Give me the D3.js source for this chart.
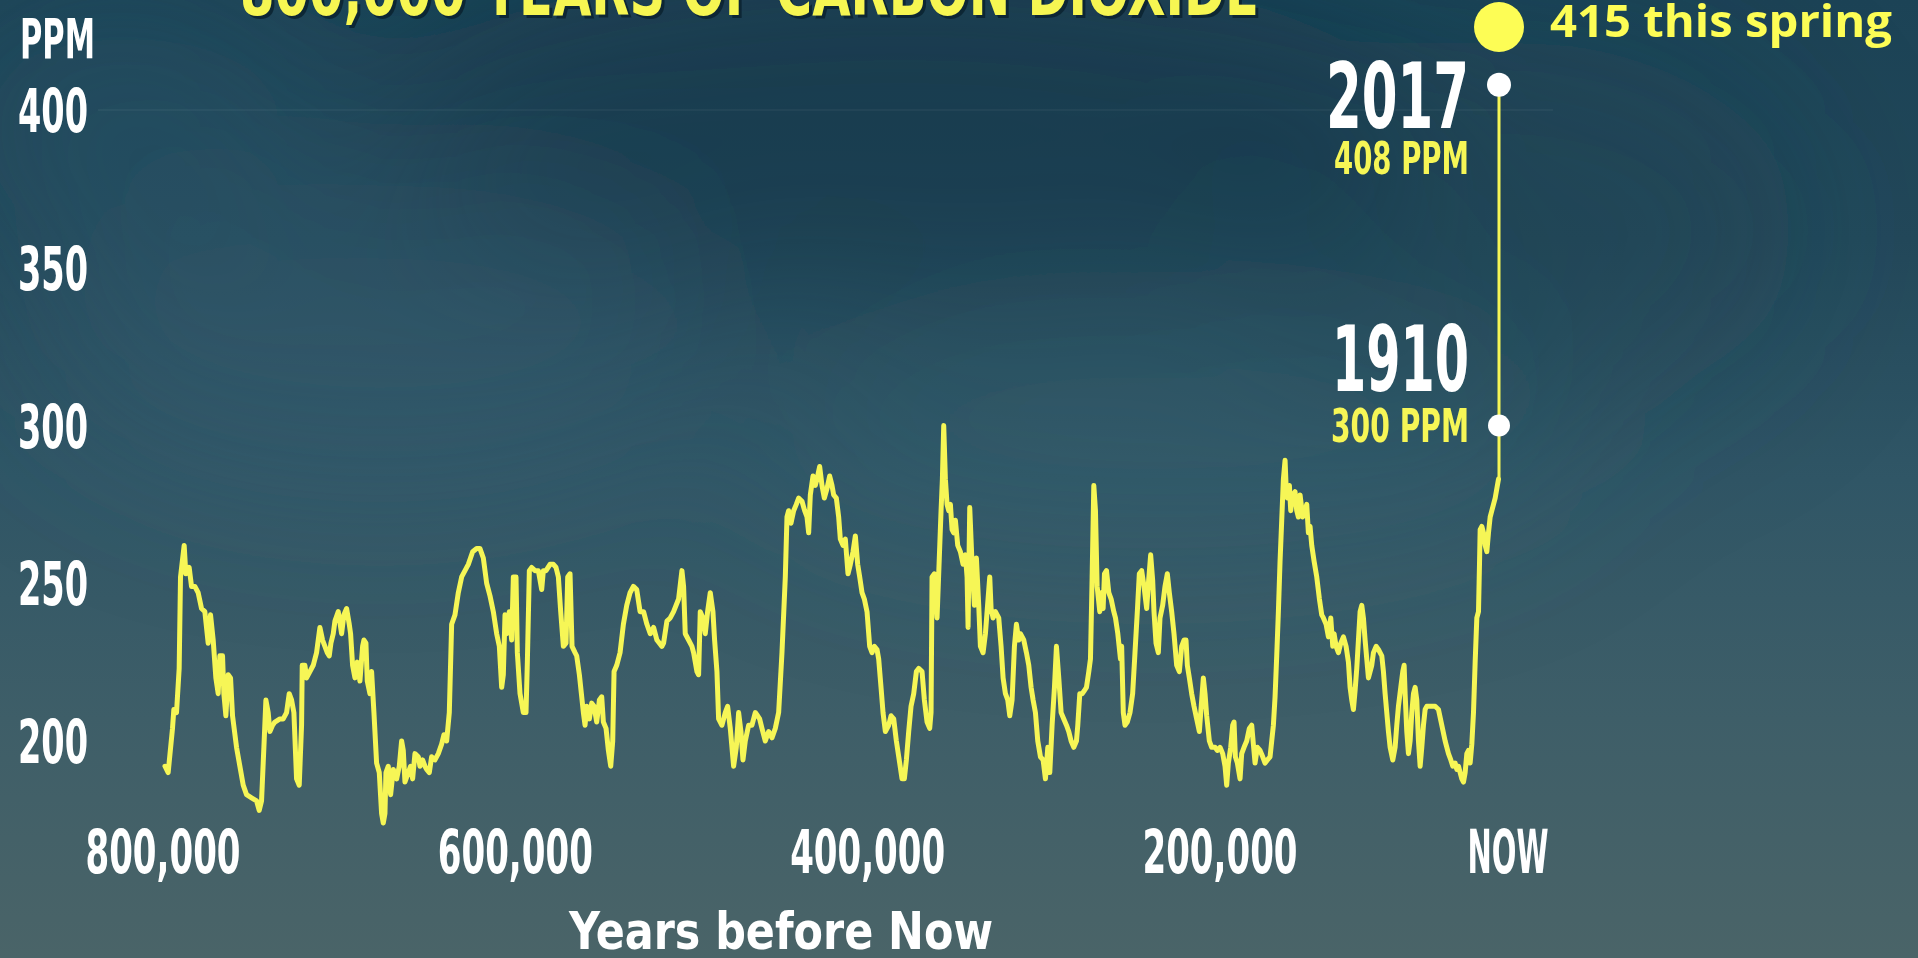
<!DOCTYPE html>
<html><head><meta charset="utf-8">
<script src="https://cdn.jsdelivr.net/npm/d3@7"></script>
<style>html,body{margin:0;padding:0;background:#2a4f5f;overflow:hidden}svg{display:block}</style>
</head><body>
<svg id="chart" width="1918" height="958"></svg>
<script>
// ---- data (thousand years before present, ppm) ----
const years = [800,798.1,795.5,794.7,793.1,791.5,790.7,788.5,787.5,785.5,784.1,782.1,780.1,778.1,776.1,774.1,772.7,771.1,769.5,768.1,767.1,765.5,764.7,763.5,762.1,760.7,759.5,757.1,755.1,753.1,751.1,748.1,745.1,743.5,742.1,740.7,739.5,738.1,737.1,735.5,734.1,731.1,729.1,727.1,725.5,724.1,722.7,721.1,719.5,718.1,717.7,716.1,715.1,713.1,711.1,709.1,707.1,705.5,704.1,702.7,701.5,700.5,699.1,698.1,696.1,694.1,692.7,691.1,689.5,688.7,687.5,686.1,684.7,683.1,681.5,680.7,679.5,678.7,677.1,676.1,674.7,673.1,671.5,670.1,669.1,668.1,667.5,666.1,664.7,663.1,661.1,659.5,658.1,657.1,656.1,654.1,652.7,651.5,650.1,648.1,647.1,645.5,644.1,643.1,641.5,640.1,638.1,636.1,634.1,632.7,631.1,629.5,628.1,626.1,624.1,622.1,620.1,618.1,615.5,613.1,611.1,609.1,607.1,605.1,603.1,601.1,599.5,598.1,597.1,596.1,595.1,593.5,592.1,591.1,589.5,588.7,587.1,585.1,583.5,582.7,581.5,580.1,578.1,576.1,574.1,573.1,571.5,569.1,567.1,565.5,564.1,562.7,561.1,559.5,558.5,557.1,555.9,554.1,553.1,551.5,550.1,549.1,548.1,547.1,545.5,544.1,542.7,541.1,539.5,538.1,537.1,535.5,534.1,532.7,531.5,530.7,529.1,527.1,525.1,523.1,521.1,519.1,517.1,515.1,
513,511,509,507,505,502,501,499,497,495,492,490,489,488,486,484,483,481,480,479,477.4,476,474.6,473,471.4,470.4,469,468,466,464,462.6,461,459,457.4,456,454.6,453.4,452,450,448,446,444.6,443.4,442,440,438,436,434,432,430,428,427,426,424.6,423,421.4,420,418,416.4,415,414,413,411.4,410,409,407.4,406,404.6,403,401.4,400,399,397.4,396,395,393.4,392,390.4,389,387.4,386,384.6,383.4,382,380.6,379,377.4,376,374.6,373,372,370.6,369.4,368,366,364.6,363,361.4,359.4,358,356.6,355.4,354,352.6,351,349.4,348,346,344.6,343,341.4,340.6,340,338.6,337,335.8,334.6,333.8,333,332,331,330,329,328,327,326,324.6,323,321.4,320,319,318.4,317.4,316,314.6,313.4,312,311,309.4,308,307,305.4,304.6,303.4,302,300,298.6,297.4,296,294.6,293.4,292,290.6,289.4,288,287,285,283.4,282,280.6,279.4,278,276.6,275,273.4,272,270.6,269.4,268,266.6,265.4,264,262.6,261,259.4,258,256.6,255,253.4,252.6,251.4,250,248.6,247.4,246,245,244,243,242,241,239.4,238.6,237.4,236.6,235.4,234,232.6,231,230,228.6,227,
226.3,225.3,224.3,222.9,221.3,219.7,218.3,216.9,215.7,214.3,212.9,211.3,210.1,208.9,207.7,206.9,205.7,204.3,203.3,201.7,200.3,198.9,197.7,196.3,194.9,193.3,191.7,190.3,188.9,187.7,186.9,185.7,184.3,182.9,181.3,179.7,178.3,177.3,176.3,175.3,173.7,172.3,170.3,168.9,167.3,165.7,164.3,163.3,162.3,160.9,159.7,158.9,158.1,156.9,155.3,154.3,152.9,151.3,149.7,148.3,147.3,146.3,144.9,143.3,141.7,140.3,138.9,137.3,136.3,135.3,134.3,133.3,132.3,131.3,130.3,129.3,128.3,127.7,126.9,125.7,124.9,123.7,122.3,121.3,120.3,119.3,117.7,116.3,115.3,114.3,113.3,112.3,110.9,109.3,107.7,106.3,105.3,103.7,102.3,100.9,99.7,98.9,97.7,96.3,94.9,93.3,91.7,90.3,89.3,88.3,87.3,86.3,85.3,84.3,83.3,82.3,81.3,80.3,79.3,78.3,77.3,76.3,75.3,73.7,72.3,70.3,69.3,68.3,67.3,66.3,65.3,63.7,62.3,61.3,60.3,58.9,57.7,56.9,56.3,55.3,54.3,53.3,52.3,51.3,50.3,49.3,48.3,47.3,46.3,45.3,44.3,43.3,41.3,38.3,36.3,34.3,32.3,30.3,28.9,27.7,26.3,25.3,24.3,23.3,22.3,21.3,20.3,19.3,18.3,17.3,16.3,15.3,14.3,13.3,12.3,11.7,11.3,10.3,9.3,8.3,7.3,6.3,5.3,4.3,3.3,2.3,1.3,0.3];
const co2 = [192,190,204,210,209,223,252,262,253,255,249,249,247,242,241,231,240,232,220,215,227,227,215,208,221,220,208,198,192,186,183,182,181,178,181,198,213,209,203,205,206,207,207,209,215,213,209,188,186,205,224,224,220,222,224,228,236,232,230,228,227,231,234,238,241,234,240,242,237,234,224,220,225,219,230,232,231,219,215,222,209,193,190,177,174,177,190,192,183,191,188,192,200,197,187,190,192,188,196,195,192,194,192,191,190,195,194,196,199,202,200,209,237,240,247,252,254,256,260,261,261,258,250,246,241,234,230,217,221,240,234,241,232,252,252,228,215,209,209,225,254,255,254,254,248,254,254,256,256,255,252,241,230,231,252,253,230,228,227,221,214,209,205,211,207,212,211,206,213,214,206,204,197,192,200,222,224,228,237,243,247,249,248,241,
241,237,234,236,232,230,231,238,239,241,245,254,249,234,232,230,228,222,221,241,239,234,241,247,241,232,222,207,205,209,211,204,192,198,209,203,194,200,205,205,209,208,207,204,200,203,201,204,209,228,252,271,273,269,273,275,277,276,273,271,266,278,284,281,283,287,281,277,280,284,281,278,277,271,264,262,264,253,256,260,265,256,252,247,245,241,230,228,230,229,226,217,209,203,205,208,207,200,193,188,188,194,203,211,215,222,223,222,213,206,204,209,252,253,239,256,273,283,300,283,275,273,275,267,266,270,262,260,256,259,252,236,274,256,243,258,243,230,228,234,241,252,242,239,241,239,230,220,215,213,208,213,230,237,232,234,232,228,224,217,213,209,200,195,194,188,198,190,205,217,230,220,209,207,205,203,200,198,200,205,215,215,216,217,222,226,252,281,273,249,241,247,242,253,254,247,245,241,239,234,226,
230,209,205,206,209,215,228,241,253,254,249,242,251,259,251,241,231,228,239,243,249,253,247,241,234,224,222,230,232,232,224,220,215,211,207,203,213,220,215,208,200,198,198,197,198,196,192,186,193,198,205,206,195,193,188,196,198,200,204,205,199,193,198,197,195,193,194,195,200,205,214,227,241,257,270,283,289,281,277,281,273,278,279,273,271,278,271,273,275,266,268,262,257,252,245,240,239,237,233,239,230,234,230,228,231,233,230,225,217,213,210,216,223,232,241,243,239,232,226,220,222,224,228,230,229,227,222,215,209,203,198,194,198,205,211,217,222,224,215,203,196,200,209,215,217,213,200,192,198,205,210,211,211,211,210,205,200,196,194,192,193,191,192,190,188,187,190,196,197,193,199,209,225,239,241,256,267,268,266,262,260,266,271,273,275,277,280,283];
const modernPpm = [283, 300, 408];          // the modern rise at "now"
const milestoneLabels = ["1910", "2017"];
const milestonePpm = [300, 408];
const latestLabel = "415 this spring";
const yTicks = [200, 250, 300, 350, 400];
const xTickValues = [800, 600, 400, 200, 0];   // thousand years before now
const xTickLabels = ["800,000", "600,000", "400,000", "200,000", "NOW"];
const titleText = "800,000 YEARS OF CARBON DIOXIDE";

// ---- layout ----
const W = 1918, H = 958;
const svg = d3.select("#chart");
const x = d3.scaleLinear().domain([800, 0]).range([165, 1499]);
const y = d3.scaleLinear().domain([200, 400]).range([741, 110]);
const xLabelPos = d3.scaleLinear().domain([800, 200]).range([163, 1220]);

const COND = "'Liberation Sans Narrow','DejaVu Sans Condensed','Liberation Sans',Arial,sans-serif";
const YEL = "#f6f656";

// ---- background ----
const defs = svg.append("defs");
const bg = defs.append("linearGradient").attr("id", "bg").attr("x1", 0).attr("y1", 0).attr("x2", 0).attr("y2", 1);
[[0, "#1c4356"], [0.25, "#23495b"], [0.5, "#305666"], [0.75, "#3e5e68"], [1, "#4a6468"]]
  .forEach(([o, c]) => bg.append("stop").attr("offset", o).attr("stop-color", c));
defs.append("filter").attr("id", "blur").attr("x", "-100%").attr("y", "-100%").attr("width", "300%").attr("height", "300%")
  .append("feGaussianBlur").attr("stdDeviation", 80);
svg.append("rect").attr("width", W).attr("height", H).attr("fill", "url(#bg)");
const clouds = svg.append("g").attr("filter", "url(#blur)");
[[900, 130, 520, 170, "#123447", 0.55], [1500, 230, 300, 190, "#1a4050", 0.3],
 [380, 330, 340, 150, "#3c6475", 0.35], [1150, 430, 420, 120, "#3b6270", 0.3],
 [120, 120, 200, 140, "#2a5567", 0.4]]
  .forEach(([cx, cy, rx, ry, c, o]) => clouds.append("ellipse")
    .attr("cx", cx).attr("cy", cy).attr("rx", rx).attr("ry", ry).attr("fill", c).attr("opacity", o));

// faint 400 guide
svg.append("line").attr("x1", 98).attr("x2", 1553).attr("y1", y(400)).attr("y2", y(400))
  .attr("stroke", "#ffffff").attr("stroke-opacity", 0.04).attr("stroke-width", 2);

// ---- title (cropped at top) ----
const title = svg.append("g");
title.append("text").attr("x", 243).attr("y", 18).text(titleText)
  .attr("font-family", COND).attr("font-weight", 700).attr("font-size", 72)
  .attr("textLength", 1019).attr("lengthAdjust", "spacingAndGlyphs").attr("fill", "#0b2330").attr("opacity", 0.85);
title.append("text").attr("x", 240).attr("y", 15).text(titleText)
  .attr("font-family", COND).attr("font-weight", 700).attr("font-size", 72)
  .attr("textLength", 1019).attr("lengthAdjust", "spacingAndGlyphs").attr("fill", "#f6f652");

// ---- y axis labels ----
svg.append("text").attr("x", 20).attr("y", 58).text("PPM")
  .attr("font-family", COND).attr("font-weight", 700).attr("font-size", 56)
  .attr("textLength", 75).attr("lengthAdjust", "spacingAndGlyphs").attr("fill", "#fff");
svg.append("g").selectAll("text").data(yTicks).join("text")
  .attr("x", 18).attr("y", d => y(d) + 22).text(d => d)
  .attr("font-family", COND).attr("font-weight", 700).attr("font-size", 61)
  .attr("textLength", 70).attr("lengthAdjust", "spacingAndGlyphs").attr("fill", "#fff");

// ---- x axis labels ----
svg.append("g").selectAll("text").data(xTickValues).join("text")
  .attr("x", d => d === 0 ? x(0) + 9 : xLabelPos(d)).attr("y", 873)
  .attr("text-anchor", "middle").text((d, i) => xTickLabels[i])
  .attr("font-family", COND).attr("font-weight", 700).attr("font-size", 60)
  .attr("textLength", d => d === 0 ? 81 : 155).attr("lengthAdjust", "spacingAndGlyphs").attr("fill", "#fff");
svg.append("text").attr("x", 781).attr("y", 949).attr("text-anchor", "middle").text("Years before Now")
  .attr("font-family", COND).attr("font-weight", 700).attr("font-size", 52)
  .attr("textLength", 424).attr("lengthAdjust", "spacingAndGlyphs").attr("fill", "#fff");

// ---- data line ----
const pts = years.map((t, i) => [t, co2[i]]);
const line = d3.line().x(d => x(d[0])).y(d => y(d[1]));
svg.append("path").datum(pts).attr("d", line).attr("fill", "none")
  .attr("stroke", YEL).attr("stroke-width", 5).attr("stroke-linejoin", "round").attr("stroke-linecap", "round");

// modern vertical rise
svg.append("path").datum(modernPpm.map(v => [0, v])).attr("d", line).attr("fill", "none")
  .attr("stroke", YEL).attr("stroke-width", 3);

// milestone dots
svg.append("g").selectAll("circle").data(milestonePpm).join("circle")
  .attr("cx", x(0)).attr("cy", d => y(d)).attr("r", (d, i) => i ? 12 : 11).attr("fill", "#fff");

// milestone labels
const ann = [
  {yr: milestoneLabels[1], ppm: milestonePpm[1], by: 128, py: 174, yw: 143, pw: 135, ps: 44},
  {yr: milestoneLabels[0], ppm: milestonePpm[0], by: 391, py: 442, yw: 137, pw: 138, ps: 47}
];
ann.forEach(a => {
  svg.append("text").attr("x", 1469).attr("y", a.by).attr("text-anchor", "end").text(a.yr)
    .attr("font-family", COND).attr("font-weight", 700).attr("font-size", 90)
    .attr("textLength", a.yw).attr("lengthAdjust", "spacingAndGlyphs").attr("fill", "#fff");
  svg.append("text").attr("x", 1469).attr("y", a.py).attr("text-anchor", "end").text(a.ppm + " PPM")
    .attr("font-family", COND).attr("font-weight", 700).attr("font-size", a.ps)
    .attr("textLength", a.pw).attr("lengthAdjust", "spacingAndGlyphs").attr("fill", YEL);
});

// latest reading annotation
svg.append("circle").attr("cx", x(0)).attr("cy", 27).attr("r", 25).attr("fill", "#fdfd55");
svg.append("text").attr("x", 1550).attr("y", 37).text(latestLabel)
  .attr("font-family", "'Open Sans','Noto Sans',sans-serif").attr("font-weight", 700).attr("font-size", 44)
  .attr("textLength", 342).attr("lengthAdjust", "spacingAndGlyphs").attr("fill", "#fdfd55");
</script>
</body></html>
